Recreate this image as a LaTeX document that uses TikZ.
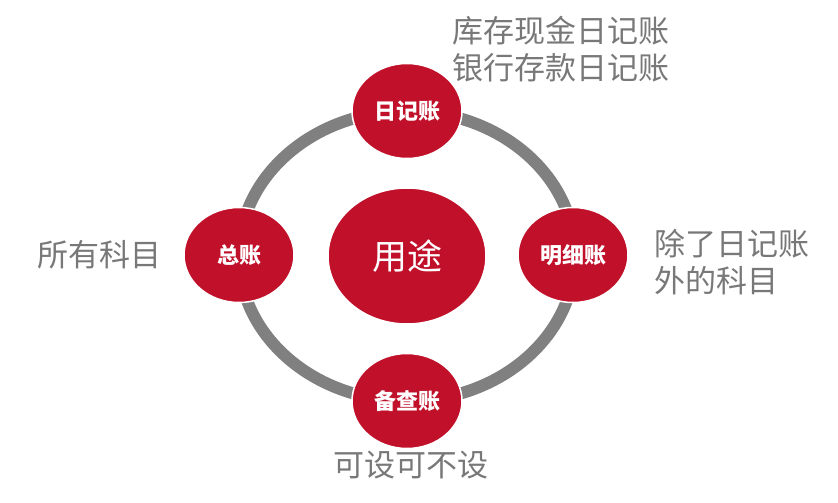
\documentclass[tikz,border=0pt]{standalone}
\usepackage{fontspec}
\newfontfamily\cjk{Noto Sans CJK SC}
\definecolor{accred}{RGB}{192,16,42}
\definecolor{ringgray}{RGB}{128,128,128}
\definecolor{txtgray}{RGB}{120,120,120}
\tikzset{
  acct/.style={ellipse, fill=accred, draw=white, line width=1.5pt, minimum width=110pt, minimum height=95pt, inner sep=0pt, text=white, font=\cjk\bfseries\fontsize{22}{26}\selectfont},
  hub/.style={ellipse, fill=accred, draw=white, line width=1.5pt, minimum width=158pt, minimum height=136pt, inner sep=0pt, text=white, font=\cjk\fontsize{35}{40}\selectfont},
  note/.style={text=txtgray, font=\cjk\fontsize{31}{37}\selectfont, inner sep=0pt}
}
\usetikzlibrary{shapes.geometric}
\begin{document}
\begin{tikzpicture}[x=1pt,y=-1pt]
\useasboundingbox (0,0) rectangle (838,503);
\coordinate (c) at (407,256);
\draw[ringgray, line width=12pt] (c) ellipse [x radius=168pt, y radius=145pt];
\node[hub] (use) at (c) {用途};
\node[acct] (day) at (407,111) {日记账};
\node[acct] (gen) at (239,255) {总账};
\node[acct] (det) at (573,255) {明细账};
\node[acct] (memo) at (407,401) {备查账};
\node[note, align=left, anchor=west] (n1) at (452,49) {库存现金日记账\\银行存款日记账};
\node[note, align=left, anchor=west] (n2) at (654,262) {除了日记账\\外的科目};
\node[note, anchor=east] (n3) at (162,255) {所有科目};
\node[note] (n4) at (411,465) {可设可不设};
\end{tikzpicture}
\end{document}
